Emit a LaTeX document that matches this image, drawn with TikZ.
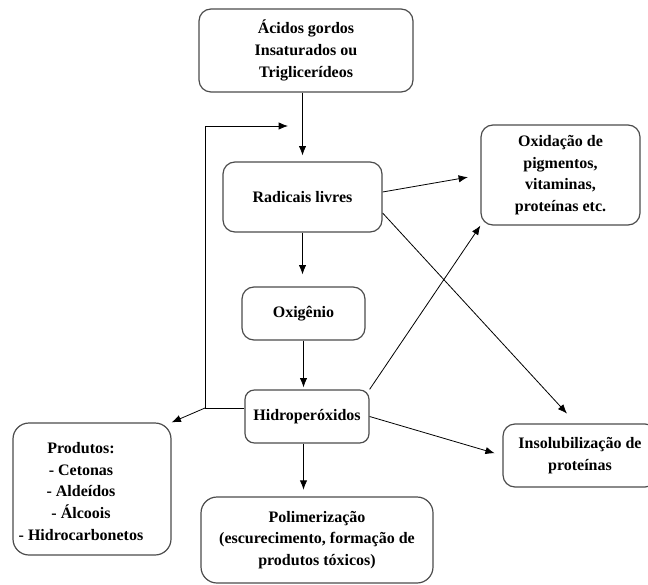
\documentclass[tikz,border=0pt]{standalone}
\usepackage{fontspec}
\setmainfont{Liberation Serif}
\usetikzlibrary{shapes, arrows, arrows.meta, positioning, calc}

\begin{document}
\begin{tikzpicture}
  [x=0.75pt, y=-0.75pt,
  % caixa
  caixa/.style = {rectangle,
    rounded corners=9pt,
    draw=black!70, line width=0.9pt,
    align=center, inner sep=0pt,
    font=\bfseries\fontsize{12}{16.3}\selectfont},
  % texto
  texto/.style = {align=center, inner sep=0pt,
    font=\bfseries\fontsize{12}{16.3}\selectfont},
  % line
  line/.style = {draw, line width=0.6pt, -{Latex[length=7pt, width=5.5pt]}},
  ]
  \useasboundingbox (0,0) rectangle (648,584);

  % nodes
  \node [caixa, minimum width=160.5pt, minimum height=62.25pt] (acidos) at (306,50.5)
    {Ácidos gordos\\Insaturados ou\\Triglicerídeos};
  \node [caixa, minimum width=119.25pt, minimum height=52.5pt] (radicais) at (302.5,197)
    {Radicais livres};
  \node [caixa, minimum width=92.25pt, minimum height=39.75pt] (oxigenio) at (303.5,313.5)
    {Oxigênio};
  \node [caixa, minimum width=93pt, minimum height=39.75pt, rounded corners=7pt] (hidro) at (307,416.5)
    {Hidroperóxidos};
  \node [caixa, minimum width=119.25pt, minimum height=75pt] (oxidacao) at (560.5,175)
    {Oxidação de\\pigmentos,\\vitaminas,\\proteínas etc.};
  \node [caixa, minimum width=115.5pt, minimum height=47.25pt] (insol) at (580,455.5)
    {Insolubilização de\\proteínas};
  \node [caixa, minimum width=118.5pt, minimum height=99pt, rounded corners=12pt] (produtos) at (92,489) {};
  \node [texto] (prodtxt) at (81,491.5)
    {Produtos:\\- Cetonas\\- Aldeídos\\- Álcoois\\- Hidrocarbonetos};
  \node [caixa, minimum width=174pt, minimum height=64.5pt, rounded corners=12pt] (polimer) at (317,540)
    {Polimerização\\(escurecimento, formação de\\produtos tóxicos)};

  % pontos do retorno
  \coordinate (desvio) at (205,408);
  \coordinate (retorno) at (288,126);

  % path
  \path [line, shorten >=4.5pt] (acidos.south -| radicais) -- (radicais.north);
  \path [line, shorten >=9pt] (radicais.south) -- (oxigenio.north -| radicais);
  \path [line, shorten >=1.5pt] (oxigenio.south) -- (hidro.north -| oxigenio);
  \path [line, shorten >=5pt] (hidro.south -| oxigenio) -- (polimer.north -| oxigenio);
  \draw [line width=0.6pt] (hidro.west |- desvio) -- (desvio);
  \path [line] (desvio) |- (retorno);
  \path [line] (desvio) -- (produtos.north east);
  \path [line, shorten >=9.5pt] ($(radicais.east)+(0,-5)$) -- (oxidacao.west);
  \path [line, shorten >=10pt] ($(radicais.east)+(0,16)$) -- ($(insol.north)+(-4,0)$);
  \path [line] (hidro.north east) -- (oxidacao.south west);
  \path [line, shorten >=6pt] (hidro.east) -- (insol.west);

\end{tikzpicture}
\end{document}
